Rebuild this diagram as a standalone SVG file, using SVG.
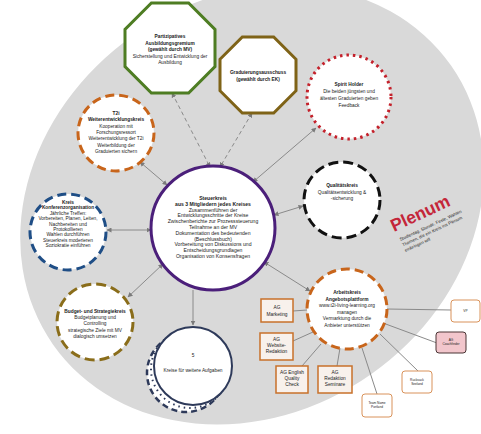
<svg xmlns="http://www.w3.org/2000/svg" width="481" height="434" viewBox="0 0 481 434">
<style>
text{font-family:"Liberation Sans",Arial,sans-serif;fill:#222;text-anchor:middle;font-size:4.8px}
.b{font-weight:bold}
.s{font-size:5.1px}
.t{font-size:3.2px}
.node{fill:#fff}
.con{stroke:#8a8a8a;stroke-width:1;fill:none}
.dash{stroke-dasharray:4 3}
.ag{fill:#f8f1ec;stroke:#c8702a;stroke-width:1.5}
.sm{fill:#fff;stroke:#d9925a;stroke-width:1}
</style>
<defs>
<marker id="ar" viewBox="0 0 10 10" refX="9" refY="5" markerWidth="5" markerHeight="5" orient="auto-start-reverse">
<path d="M0,0 L10,5 L0,10 z" fill="#7a7a7a"/>
</marker>
</defs>
<rect width="481" height="434" fill="#fff"/>
<ellipse cx="252" cy="205" rx="243" ry="207" transform="rotate(-35 252 205)" fill="#d9d9d9"/>

<g id="connectors">
<line class="con" x1="140" y1="162" x2="167" y2="185" marker-start="url(#ar)" marker-end="url(#ar)"/>
<line class="con dash" x1="172" y1="93" x2="210" y2="167" marker-start="url(#ar)" marker-end="url(#ar)"/>
<line class="con dash" x1="252" y1="113" x2="220" y2="167" marker-start="url(#ar)" marker-end="url(#ar)"/>
<line class="con" x1="253" y1="182" x2="316" y2="128" marker-start="url(#ar)" marker-end="url(#ar)"/>
<line class="con" x1="274" y1="215" x2="303" y2="206" marker-start="url(#ar)" marker-end="url(#ar)"/>
<line class="con" x1="151" y1="230" x2="107" y2="230" marker-start="url(#ar)" marker-end="url(#ar)"/>
<line class="con" x1="163" y1="264" x2="128" y2="297" marker-start="url(#ar)" marker-end="url(#ar)"/>
<line class="con" x1="264" y1="262" x2="310" y2="291" marker-start="url(#ar)" marker-end="url(#ar)"/>
<line class="con" x1="193" y1="290" x2="193" y2="325" marker-end="url(#ar)"/>
<line class="con" x1="293" y1="311" x2="307" y2="310"/>
<line class="con" x1="293" y1="341" x2="313" y2="332"/>
<line class="con" x1="302" y1="366" x2="321" y2="344"/>
<line class="con" x1="337" y1="366" x2="340" y2="348"/>
<line class="con" x1="377" y1="394" x2="362" y2="348"/>
<line class="con" x1="418" y1="371" x2="380" y2="334"/>
<line class="con" x1="437" y1="343" x2="383" y2="323"/>
<line class="con" x1="451" y1="310" x2="387" y2="309"/>
</g>

<g id="ausbildungsgremium">
<polygon class="node" points="151.4,3 188.6,3 215,29.4 215,66.6 188.6,93 151.4,93 125,66.6 125,29.4" stroke="#4e7d23" stroke-width="3"/>
<text class="b" x="170" y="38">Partizipatives</text>
<text class="b" x="170" y="44.5">Ausbildungsgremium</text>
<text class="b" x="170" y="51">(gewählt durch MV)</text>
<text x="170" y="57.5">Sicherstellung und Entwicklung der</text>
<text x="170" y="63.5">Ausbildung</text>
</g>

<g id="graduierungsausschuss">
<polygon class="node" points="242.3,37 273.7,37 296,59.3 296,90.7 273.7,113 242.3,113 220,90.7 220,59.3" stroke="#7f6317" stroke-width="3"/>
<text class="b" x="258" y="74">Graduierungsausschuss</text>
<text class="b" x="258" y="81">(gewählt durch EK)</text>
</g>

<g id="spiritholder">
<circle class="node" cx="349" cy="97" r="42" stroke="#c4212b" stroke-width="3" stroke-dasharray="2.5 4"/>
<text class="b" x="349" y="86">Spirit Holder</text>
<text x="349" y="93">Die beiden jüngsten und</text>
<text x="349" y="100">ältesten Graduierten geben</text>
<text x="349" y="107">Feedback</text>
</g>

<g id="t2i">
<circle class="node" cx="116" cy="133" r="38" stroke="#c8651b" stroke-width="3" stroke-dasharray="9 5"/>
<text class="b" x="116" y="115">T2i</text>
<text class="b" x="116" y="121.3">Weiterentwicklungskreis</text>
<text x="116" y="127.6">Kooperation mit</text>
<text x="116" y="133.9">Forschungsressort</text>
<text x="116" y="140.2">Weiterentwicklung der T2i</text>
<text x="116" y="146.5">Weiterbildung der</text>
<text x="116" y="152.8">Graduierten sichern</text>
</g>

<g id="steuerkreis">
<circle class="node" cx="213" cy="228" r="62" stroke="#4b1f7a" stroke-width="3"/>
<text class="b s" x="213" y="200">Steuerkreis</text>
<text class="b s" x="213" y="205.8">aus 3 Mitgliedern jedes Kreises</text>
<text class="s" x="213" y="211.6">Zusammenführen der</text>
<text class="s" x="213" y="217.4">Entwicklungsschritte der Kreise</text>
<text class="s" x="213" y="223.2">Zwischenberichte zur Prozesssteuerung</text>
<text class="s" x="213" y="229">Teilnahme an der MV</text>
<text class="s" x="213" y="234.8">Dokumentation des bedeutenden</text>
<text class="s" x="213" y="240.6">(Beschlussbuch)</text>
<text class="s" x="213" y="246.4">Vorbereitung von Diskussions und</text>
<text class="s" x="213" y="252.2">Entscheidungsgrundlagen</text>
<text class="s" x="213" y="258">Organisation von Konsensfragen</text>
</g>

<g id="qualitaetskreis">
<circle class="node" cx="342" cy="200" r="38" stroke="#111" stroke-width="3" stroke-dasharray="10 5"/>
<text class="b" x="342" y="187">Qualitätskreis</text>
<text x="342" y="193.5">Qualitätsentwicklung &amp;</text>
<text x="342" y="200">-sicherung</text>
</g>

<g id="konferenz">
<circle class="node" cx="68" cy="232" r="38" stroke="#1f4e86" stroke-width="3" stroke-dasharray="9 5"/>
<text class="b" x="68" y="204">Kreis</text>
<text class="b" x="68" y="209.4">Konferenzorganisation</text>
<text x="68" y="214.8">Jährliche Treffen:</text>
<text x="68" y="220.2">Vorbereiten, Planen, Leiten,</text>
<text x="68" y="225.6">Nachbereiten und</text>
<text x="68" y="231">Protokollieren</text>
<text x="68" y="236.4">Wahlen durchführen</text>
<text x="68" y="241.8">Steuerkreis moderieren</text>
<text x="68" y="247.2">Soziokratie einführen</text>
</g>

<g id="budget">
<circle class="node" cx="95" cy="322" r="38" stroke="#8a6d1a" stroke-width="3" stroke-dasharray="10 5"/>
<text class="b" x="95" y="313">Budget- und Strategiekreis</text>
<text x="95" y="319">Budgetplanung und</text>
<text x="95" y="325">Controlling</text>
<text x="95" y="331.5">strategische Ziele mit MV</text>
<text x="95" y="338">dialogisch umsetzen</text>
</g>

<g id="weiterekreise">
<circle cx="186" cy="373" r="39" fill="#fff" stroke="#2e3a5a" stroke-width="2.5" stroke-dasharray="6 4"/>
<circle cx="190" cy="369" r="39" fill="#fff" stroke="#2e3a5a" stroke-width="2" stroke-dasharray="1.5 4"/>
<circle class="node" cx="193" cy="366" r="39" stroke="#2e3a5a" stroke-width="2"/>
<text x="193" y="357">5</text>
<text x="193" y="372">Kreise für weitere Aufgaben</text>
</g>

<g id="arbeitskreis">
<circle class="node" cx="347" cy="309" r="40" stroke="#c8651b" stroke-width="3" stroke-dasharray="9 5"/>
<text class="b" x="347" y="294">Arbeitskreis</text>
<text class="b" x="347" y="300.5">Angebotsplattform</text>
<text x="347" y="307">www.t2i-living-learning.org</text>
<text x="347" y="313.5">managen</text>
<text x="347" y="320">Vermarktung durch die</text>
<text x="347" y="326.5">Anbieter unterstützen</text>
</g>

<g id="ag-marketing">
<rect class="ag" x="261" y="299" width="32" height="23"/>
<text x="277" y="309">AG</text>
<text x="277" y="315.5">Marketing</text>
</g>
<g id="ag-website">
<rect class="ag" x="260" y="333" width="33" height="27"/>
<text x="276.5" y="341">AG</text>
<text x="276.5" y="347">Website-</text>
<text x="276.5" y="353">Redaktion</text>
</g>
<g id="ag-english">
<rect class="ag" x="276" y="366" width="32" height="27"/>
<text x="292" y="374">AG English</text>
<text x="292" y="380">Quality</text>
<text x="292" y="386">Check</text>
</g>
<g id="ag-seminare">
<rect class="ag" x="318" y="366" width="34" height="27"/>
<text x="335" y="374">AG</text>
<text x="335" y="380">Redaktion</text>
<text x="335" y="386">Seminare</text>
</g>
<g id="vp">
<rect class="sm" x="451" y="300" width="29" height="22" rx="3"/>
<text class="t" x="465.5" y="312">VP</text>
</g>
<g id="coachfinder">
<rect x="436" y="332" width="30" height="21" rx="3" fill="#f2c6cc" stroke="#4a3535" stroke-width="1"/>
<text class="t" x="451" y="341">AG</text>
<text class="t" x="451" y="345">Coachfinder</text>
</g>
<g id="rucksack">
<rect class="sm" x="402" y="371" width="30" height="22" rx="3"/>
<text class="t" x="417" y="381">Rucksack</text>
<text class="t" x="417" y="385">Seeland</text>
</g>
<g id="team">
<rect class="sm" x="362" y="394" width="30" height="23" rx="3"/>
<text class="t" x="377" y="404">Team Name</text>
<text class="t" x="377" y="408">Portland</text>
</g>

<g id="plenum" transform="translate(394 232) rotate(-25)">
<text x="0" y="0" style="font-size:17.5px;font-weight:bold;fill:#c4263a;text-anchor:start">Plenum</text>
<text x="2" y="11" style="font-size:4.4px;text-anchor:start">Studientag, Stunde, Feste, Wahlen</text>
<text x="2" y="17" style="font-size:4.4px;text-anchor:start">Themen, die ein Kreis ins Plenum</text>
<text x="2" y="23" style="font-size:4.4px;text-anchor:start">einbringen will</text>
</g>
</svg>
